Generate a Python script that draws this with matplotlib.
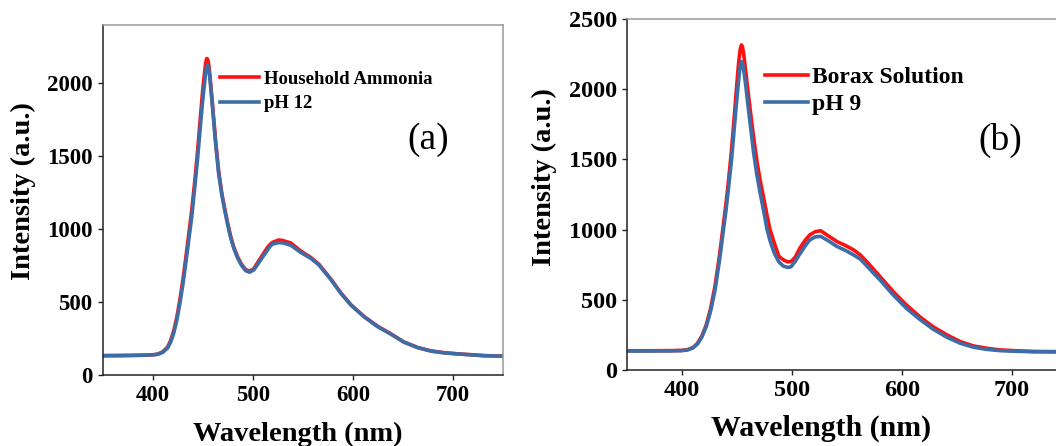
import matplotlib
matplotlib.use("Agg")
import matplotlib.pyplot as plt

plt.rcParams['font.family'] = ['Liberation Serif', 'DejaVu Serif']

# (a) household ammonia vs pH 12 buffer
wl_a = [350, 370, 390, 400, 405, 410, 415, 418, 421, 424, 427, 430, 433, 436, 439,
        442, 445, 448, 450, 452, 453, 454, 455, 456, 457, 459, 461, 463, 466, 469,
        472, 475, 478, 481, 485, 489, 493, 497, 501, 505, 510, 515, 518, 520, 526,
        530, 538, 548, 558, 566, 578, 588, 598, 611, 625, 638, 651, 665, 678, 691,
        705, 731, 750]
ammonia = [132, 133, 135, 138, 143, 158, 192, 236, 300, 390, 505, 640, 795, 960, 1125,
           1320, 1540, 1790, 1950, 2080, 2140, 2170, 2165, 2130, 2070, 1920, 1760, 1600, 1395, 1250,
           1140, 1040, 950, 878, 808, 757, 722, 712, 728, 772, 825, 878, 900, 910, 926,
           922, 905, 850, 806, 760, 658, 563, 482, 402, 333, 282, 226, 188, 165, 153,
           145, 133, 130]
ph12 = [133, 134, 136, 138, 142, 155, 185, 225, 285, 370, 480, 610, 760, 920, 1080,
        1280, 1490, 1730, 1880, 2010, 2070, 2115, 2125, 2100, 2050, 1900, 1740, 1580, 1380, 1240,
        1130, 1030, 940, 870, 800, 750, 715, 705, 720, 760, 810, 860, 888, 898, 908,
        906, 890, 840, 800, 755, 655, 560, 480, 400, 330, 280, 225, 187, 164, 152,
        144, 132, 129]

# (b) borax solution vs pH 9 buffer
wl_b = [350, 370, 390, 400, 405, 410, 414, 418, 422, 426, 430, 434, 437, 440, 442,
        445, 447, 449, 451, 452, 453, 454, 455, 456, 458, 460, 462, 465, 468, 471,
        474, 477, 480, 484, 488, 492, 496, 499, 503, 507, 512, 516, 521, 526, 533,
        541, 549, 556, 562, 568, 574, 580, 592, 604, 616, 628, 641, 653, 665, 677,
        689, 701, 719, 740, 755]
borax = [137, 137, 138, 140, 145, 160, 190, 242, 322, 440, 600, 815, 1000, 1190, 1330,
         1570, 1760, 1960, 2150, 2230, 2290, 2315, 2300, 2250, 2120, 1980, 1850, 1660, 1490, 1350,
         1234, 1110, 1000, 900, 810, 785, 770, 772, 805, 867, 925, 962, 985, 992, 955,
         914, 885, 855, 820, 771, 718, 665, 558, 463, 380, 309, 249, 202, 171, 155,
         143, 138, 132, 131, 131]
ph9 = [135, 135, 136, 138, 143, 158, 185, 235, 310, 420, 570, 780, 960, 1140, 1280,
       1500, 1680, 1860, 2030, 2110, 2170, 2196, 2185, 2140, 2020, 1880, 1750, 1550, 1390, 1260,
       1140, 1010, 920, 830, 770, 740, 731, 735, 775, 826, 885, 926, 948, 952, 920,
       879, 850, 819, 790, 741, 690, 641, 534, 439, 361, 292, 232, 190, 162, 147,
       138, 134, 130, 129, 129]

RED = '#ff1010'
BLUE = '#3d6da6'

fig = plt.figure(figsize=(10.56, 4.46), dpi=100)
ax1 = fig.add_axes([0.0971, 0.1592, 0.3793, 0.7848])
ax2 = fig.add_axes([0.5938, 0.1704, 0.4167, 0.7870])


def style_axes(ax, tick_size):
    for side in ['left', 'bottom']:
        ax.spines[side].set_color('#222222')
        ax.spines[side].set_linewidth(1.1)
    for side in ['top', 'right']:
        ax.spines[side].set_color('#999999')
        ax.spines[side].set_linewidth(1.1)
    ax.tick_params(direction='out', length=3.6, width=1.0, color='#222222',
                   labelsize=tick_size, pad=3.5, top=False, right=False)
    for lab in ax.get_xticklabels() + ax.get_yticklabels():
        lab.set_fontweight('bold')


ax1.plot(wl_a, ammonia, color=RED, lw=2.6, label='Household Ammonia')
ax1.plot(wl_a, ph12, color=BLUE, lw=2.6, label='pH 12')
ax1.set_xlim(350, 750)
ax1.set_ylim(0, 2400)
ax1.set_xticks([400, 500, 600, 700])
ax1.set_yticks([0, 500, 1000, 1500, 2000])
style_axes(ax1, 16.5)
ax1.set_xlabel('Wavelength (nm)', fontsize=20.5, fontweight='bold')
ax1.set_ylabel('Intensity (a.u.)', fontsize=20.5, fontweight='bold')
ax1.xaxis.set_label_coords(0.487, -0.135)
ax1.yaxis.set_label_coords(-0.166, 0.526)
ax1.legend(loc='upper left', bbox_to_anchor=(0.293, 0.87), frameon=False,
           prop={'weight': 'bold', 'size': 13.5}, handlelength=2.1,
           handletextpad=0.25, labelspacing=0.4, borderpad=0, borderaxespad=0)
ax1.text(0.813, 0.671, '(a)', transform=ax1.transAxes, fontsize=27,
         ha='center', va='center')

ax2.plot(wl_b, borax, color=RED, lw=2.6, label='Borax Solution')
ax2.plot(wl_b, ph9, color=BLUE, lw=2.6, label='pH 9')
ax2.set_xlim(350, 750)
ax2.set_ylim(0, 2500)
ax2.set_xticks([400, 500, 600, 700])
ax2.set_yticks([0, 500, 1000, 1500, 2000, 2500])
style_axes(ax2, 17.5)
ax2.set_xlabel('Wavelength (nm)', fontsize=21.5, fontweight='bold')
ax2.set_ylabel('Intensity (a.u.)', fontsize=20.5, fontweight='bold')
ax2.xaxis.set_label_coords(0.441, -0.128)
ax2.yaxis.set_label_coords(-0.159, 0.55)
ax2.legend(loc='upper left', bbox_to_anchor=(0.314, 0.865), frameon=False,
           prop={'weight': 'bold', 'size': 17}, handlelength=1.8,
           handletextpad=0.2, labelspacing=0.25, borderpad=0, borderaxespad=0)
ax2.text(0.848, 0.655, '(b)', transform=ax2.transAxes, fontsize=27,
         ha='center', va='center')

fig.savefig('out.png', dpi=100)
